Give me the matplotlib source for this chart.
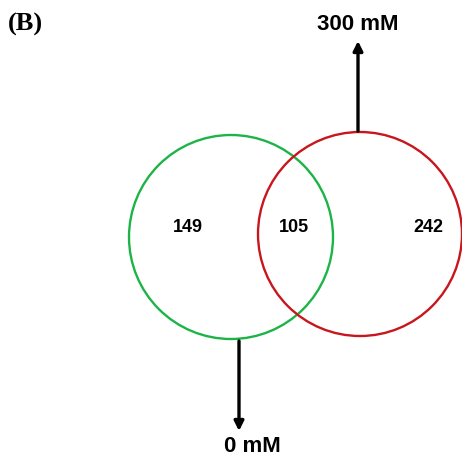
import matplotlib
matplotlib.use('Agg')
from matplotlib import pyplot as plt
from matplotlib.patches import Circle

# Venn counts: only 0 mM, shared, only 300 mM
counts = [149, 105, 242]
set_names = ['0 mM', '300 mM']
set_colors = ['#1db447', '#c8161d']
panel = '(B)'

fig = plt.figure(figsize=(4.62, 4.59), dpi=100)
ax = fig.add_axes([0, 0, 1, 1])
ax.set_xlim(0, 462)
ax.set_ylim(459, 0)
ax.set_aspect('equal')
ax.axis('off')

# circles (pixel layout)
c_green = (231, 237)
c_red = (360, 234)
r = 102
ax.add_patch(Circle(c_green, r, fill=False, ec=set_colors[0], lw=1.7))
ax.add_patch(Circle(c_red, r, fill=False, ec=set_colors[1], lw=1.7))

# numbers
ax.text(188, 228, str(counts[0]), ha='center', va='center',
        fontsize=13, fontweight='bold', family='Liberation Sans')
ax.text(294, 228, str(counts[1]), ha='center', va='center',
        fontsize=13, fontweight='bold', family='Liberation Sans')
ax.text(428, 228, str(counts[2]), ha='center', va='center',
        fontsize=13, fontweight='bold', family='Liberation Sans')

# arrows
arr = dict(arrowstyle='-|>', color='black', lw=2.4, mutation_scale=14,
           shrinkA=0, shrinkB=0)
ax.annotate('', xy=(239, 431), xytext=(239, 341), arrowprops=arr)
ax.annotate('', xy=(358, 41), xytext=(358, 131), arrowprops=arr)

# set labels
ax.text(252, 447, set_names[0], ha='center', va='center',
        fontsize=16, fontweight='bold', family='Liberation Sans')
ax.text(358, 25, set_names[1], ha='center', va='center',
        fontsize=16, fontweight='bold', family='Liberation Sans')

ax.text(8, 24, panel, ha='left', va='center',
        fontsize=19, fontweight='bold', family='Liberation Serif')

plt.savefig('out.png', dpi=100)
